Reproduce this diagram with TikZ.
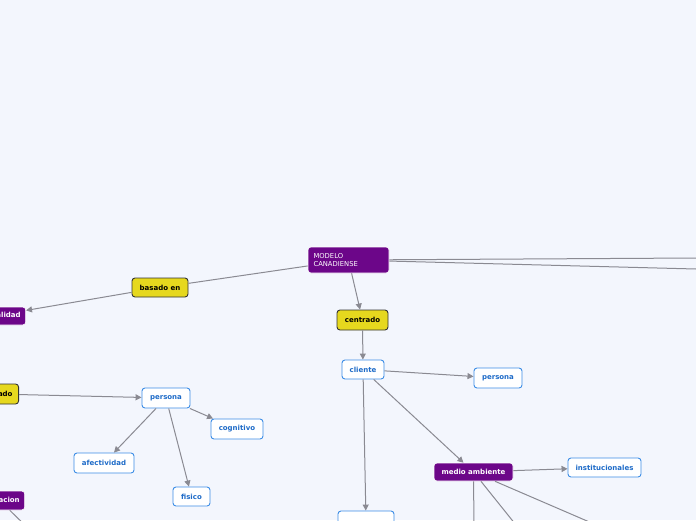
\documentclass[tikz,border=0pt]{standalone}
\usepackage{fontspec}
\setmainfont{DejaVu Sans}
\usetikzlibrary{arrows.meta}
\definecolor{bg}{HTML}{F3F6FD}
\definecolor{purp}{HTML}{6C0689}
\definecolor{yel}{HTML}{E6D81E}
\definecolor{bblue}{HTML}{3C8DE6}
\definecolor{tblue}{HTML}{1E6BC8}
\definecolor{edge}{HTML}{8A8A92}
\begin{document}
\begin{tikzpicture}[x=1pt,y=-1pt,
  base/.style={rounded corners=3pt, inner sep=0pt, align=center, font=\fontsize{7}{8}\selectfont\bfseries},
  purpbox/.style={base, fill=purp, draw=white, line width=0.6pt, text=white},
  yelbox/.style={base, fill=yel, draw=black!80, line width=0.9pt, text=black},
  whitebox/.style={base, fill=white, draw=bblue, line width=0.9pt, text=tblue},
  cut/.style={inner xsep=5pt, anchor=east},
  conn/.style={draw=edge, line width=1pt},
  arr/.style={conn, -{Triangle[length=6pt,width=6pt]}}]
\fill[bg] (0,0) rectangle (696,520);
\useasboundingbox (0,0) rectangle (696,520);
\clip (0,0) rectangle (696,520);

% nodes
\node[purpbox, minimum width=81pt, minimum height=26pt, align=left, text width=70pt, font=\fontsize{6.8}{8.8}\selectfont] (modelo) at (348.5,260) {MODELO\\CANADIENSE};
\node[yelbox, minimum width=56pt, minimum height=19pt] (basado) at (160,287.5) {basado en};
\node[purpbox, cut, minimum height=18pt] (espir) at (26,316) {espiritualidad};
\node[yelbox, cut, inner xsep=6pt, minimum height=20pt] (formado) at (19,394) {formado};
\node[purpbox, cut, minimum height=19pt] (ocup) at (25,500.5) {ocupacion};
\node[yelbox, minimum width=51pt, minimum height=20pt] (centrado) at (362.5,320) {centrado};
\node[whitebox, minimum width=42pt, minimum height=19pt] (cliente) at (363,369.5) {cliente};
\node[whitebox, minimum width=48pt, minimum height=20pt] (persona1) at (498,378) {persona};
\node[purpbox, minimum width=79pt, minimum height=18pt] (medio) at (473.5,472) {medio ambiente};
\node[whitebox, minimum width=73pt, minimum height=19pt] (inst) at (604.5,467.5) {institucionales};
\node[whitebox, minimum width=48pt, minimum height=20pt] (persona2) at (166,398) {persona};
\node[whitebox, minimum width=52pt, minimum height=20pt] (cogn) at (237,429) {cognitivo};
\node[whitebox, minimum width=60pt, minimum height=20pt] (afec) at (104,463) {afectividad};
\node[whitebox, minimum width=37pt, minimum height=19pt] (fisico) at (191.5,496.5) {fisico};
\node[whitebox, minimum width=56pt, minimum height=20pt] (bottom) at (366,521) {};

% free ends
\coordinate (r1) at (696,258);
\coordinate (r2) at (696,269);
\coordinate (m1) at (474,530);
\coordinate (m2) at (520,530);
\coordinate (m3) at (608,530);
\coordinate (o1) at (30,530);
\coordinate (o0) at (-14,474);

% connectors
\draw[conn] (modelo) -- (basado);
\draw[arr] (basado) -- (espir);
\draw[arr] (modelo) -- (centrado);
\draw[conn] (modelo) -- (r1);
\draw[conn] (modelo) -- (r2);
\draw[arr] (centrado) -- (cliente);
\draw[arr] (cliente) -- (persona1);
\draw[arr] (cliente) -- (medio);
\draw[arr] (cliente) -- (bottom);
\draw[arr] (medio) -- (inst);
\draw[conn] (medio) -- (m1);
\draw[conn] (medio) -- (m2);
\draw[conn] (medio) -- (m3);
\draw[arr] (formado) -- (persona2);
\draw[arr] (persona2) -- (cogn);
\draw[arr] (persona2) -- (afec);
\draw[arr] (persona2) -- (fisico);
\draw[conn] (ocup) -- (o1);
\draw[arr] (o0) -- (ocup);
\end{tikzpicture}
\end{document}
